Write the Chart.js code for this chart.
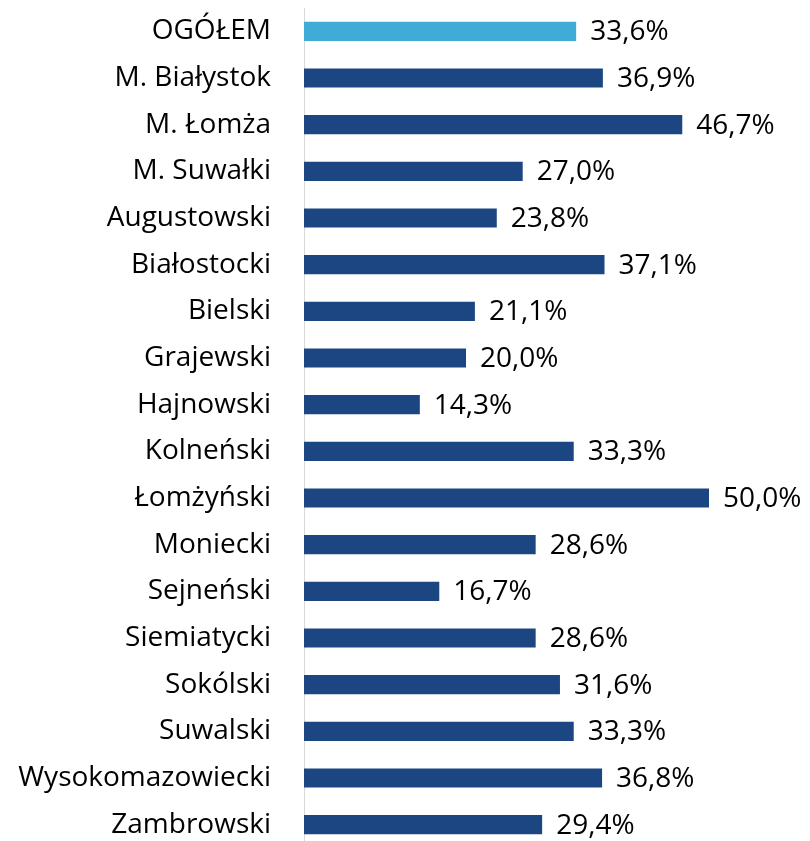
<!DOCTYPE html>
<html>
<head>
<meta charset="utf-8">
<script src="https://cdn.jsdelivr.net/npm/chart.js@4"></script>
<style>
  html, body { margin: 0; padding: 0; background: #fff; overflow: hidden; }
  canvas { display: block; }
</style>
</head>
<body>
<canvas id="chart" width="810" height="848"></canvas>
<script>
const categories = [
  "OGÓŁEM", "M. Białystok", "M. Łomża", "M. Suwałki", "Augustowski",
  "Białostocki", "Bielski", "Grajewski", "Hajnowski", "Kolneński",
  "Łomżyński", "Moniecki", "Sejneński", "Siemiatycki", "Sokólski",
  "Suwalski", "Wysokomazowiecki", "Zambrowski"
];
const values = [
  33.6, 36.9, 46.7, 27.0, 23.8,
  37.1, 21.1, 20.0, 14.3, 33.3,
  50.0, 28.6, 16.7, 28.6, 31.6,
  33.3, 36.8, 29.4
];
const totalColor = "#40ACD6";
const districtColor = "#1B4681";
const FONT = "'Open Sans', sans-serif";
const FONT_SIZE = 28;

// ---------- VALUE LABELS ----------
const valueLabels = {
  id: "valueLabels",
  afterDatasetsDraw(chart) {
    const ctx = chart.ctx;
    const meta = chart.getDatasetMeta(0);
    ctx.save();
    ctx.font = FONT_SIZE + "px " + FONT;
    ctx.fillStyle = "#000";
    ctx.textAlign = "left";
    ctx.textBaseline = "middle";
    meta.data.forEach((bar, i) => {
      const txt = values[i].toFixed(1).replace(".", ",") + "%";
      ctx.fillText(txt, bar.x + 14, bar.y + 1);
    });
    ctx.restore();
  },
};

new Chart(document.getElementById("chart"), {
  type: "bar",
  data: {
    labels: categories,
    datasets: [
      {
        data: values,
        backgroundColor: categories.map((_, i) => (i === 0 ? totalColor : districtColor)),
        barPercentage: 0.41,
        categoryPercentage: 1,
      },
    ],
  },
  options: {
    indexAxis: "y",
    responsive: false,
    animation: false,
    devicePixelRatio: 1,
    layout: { padding: { top: 8, right: 101, bottom: 0, left: 0 } },
    plugins: { legend: { display: false }, tooltip: { enabled: false } },
    scales: {
      x: { display: false, min: 0, max: 50 },
      y: {
        afterFit: (s) => {
          s.width = 304;
          s.paddingTop = 0;
          s.paddingBottom = 0;
        },
        grid: { display: false, drawTicks: false },
        border: { display: true, color: "#D9D9D9", width: 1 },
        ticks: {
          padding: 33,
          color: "#000",
          font: { family: FONT, size: FONT_SIZE },
        },
      },
    },
  },
  plugins: [valueLabels],
});
</script>
</body>
</html>
